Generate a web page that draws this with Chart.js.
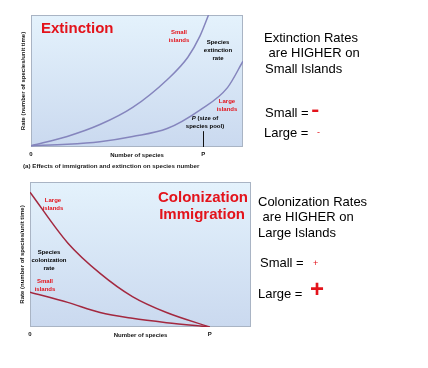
<!DOCTYPE html>
<html>
<head>
<meta charset="utf-8">
<script src="https://cdn.jsdelivr.net/npm/chart.js@4/dist/chart.umd.min.js"></script>
<style>
  body { margin: 0; background: #fff; font-family: "Liberation Sans", Arial, sans-serif; }
  #page { position: relative; width: 428px; height: 368px; overflow: hidden; }
  .box { position: absolute; }
  .t { position: absolute; white-space: nowrap; line-height: 1; }
  .red { color: #e3131b; }
  .lbl { font-size: 6px; font-weight: bold; text-align: center; line-height: 8px; }
  .side { font-size: 13px; color: #000; }
</style>
</head>
<body>
<div id="page">
  <div class="box" style="left:0;top:0;width:250px;height:175px"><canvas id="top"></canvas></div>
  <div class="box" style="left:0;top:178px;width:258px;height:170px"><canvas id="bottom"></canvas></div>

  <!-- labels inside the top chart -->
  <div class="t red" style="left:41px;top:20px;font-size:15px;font-weight:bold">Extinction</div>
  <div class="t lbl red" style="left:166px;top:28px;width:26px">Small<br>islands</div>
  <div class="t lbl" style="left:200px;top:38px;width:36px">Species<br>extinction<br>rate</div>
  <div class="t lbl red" style="left:214px;top:97px;width:26px">Large<br>islands</div>
  <div class="t lbl" style="left:180px;top:114px;width:50px"><i>P</i> (size of<br>species pool)</div>
  <div class="t" style="left:23px;top:163px;font-size:6.2px;font-weight:bold;color:#222">(a) Effects of immigration and extinction on species number</div>

  <!-- labels inside the bottom chart -->
  <div class="t red" style="left:158px;top:188px;font-size:15px;font-weight:bold;text-align:right;line-height:17px;width:87px">Colonization<br>Immigration</div>
  <div class="t lbl red" style="left:40px;top:196px;width:26px">Large<br>islands</div>
  <div class="t lbl" style="left:30px;top:248px;width:38px">Species<br>colonization<br>rate</div>
  <div class="t lbl red" style="left:32px;top:277px;width:26px">Small<br>islands</div>

  <!-- side notes -->
  <div class="t side red" style="left:264px;top:31px">Extinction Rates</div>
  <div class="t side" style="left:265px;top:46px">&nbsp;are HIGHER on</div>
  <div class="t side" style="left:265px;top:62px">Small Islands</div>
  <div class="t side" style="left:265px;top:106px">Small =</div>
  <div class="t red" style="left:312px;top:99px;font-size:20px;font-weight:bold;transform:scaleX(1.2)">-</div>
  <div class="t side" style="left:264px;top:126px">Large =</div>
  <div class="t red" style="left:317px;top:128px;font-size:9px">-</div>

  <div class="t side red" style="left:258px;top:195px">Colonization Rates</div>
  <div class="t side" style="left:259px;top:210px">&nbsp;are HIGHER on</div>
  <div class="t side" style="left:258px;top:226px">Large Islands</div>
  <div class="t side" style="left:260px;top:256px">Small =</div>
  <div class="t red" style="left:313px;top:259px;font-size:9px">+</div>
  <div class="t side" style="left:258px;top:287px">Large =</div>
  <div class="t red" style="left:310px;top:277px;font-size:24px;font-weight:bold">+</div>
</div>

<script>
// species number runs 0..P, P = 100; rate is relative (0..100)
const P = 100;

// extinction curves (top panel)
const extSmallX = [0, 21, 40, 59, 79, 91, 98, 103];
const extSmallY = [1, 8, 17, 30, 51, 68, 84, 100];
const extLargeX = [0, 21, 40, 59, 79, 98, 114, 123];
const extLargeY = [1, 2, 4, 8, 14, 28, 45, 65];

// colonization curves (bottom panel)
const colLargeX = [0, 21, 39, 57, 76, 100];
const colLargeY = [93, 58, 37, 21, 10, 0];
const colSmallX = [0, 21, 39, 57, 76, 100];
const colSmallY = [24, 17, 10, 6, 3, 0];

const xTicks = [0, P];
const xTickLabels = ['0', 'P'];

function pts(xs, ys) {
  return xs.map((x, i) => ({ x: x, y: ys[i] }));
}

// light blue gradient behind the plot area
const bgPlugin = {
  id: 'bg',
  beforeDraw(chart) {
    const a = chart.chartArea, ctx = chart.ctx;
    const g = ctx.createLinearGradient(0, a.top, 0, a.bottom);
    g.addColorStop(0, '#e4f2fc');
    g.addColorStop(1, '#cad9ef');
    ctx.save();
    ctx.fillStyle = g;
    ctx.fillRect(a.left, a.top, a.right - a.left, a.bottom - a.top);
    ctx.strokeStyle = '#a9b4c4';
    ctx.lineWidth = 1;
    ctx.strokeRect(a.left + 0.5, a.top + 0.5, a.right - a.left - 1, a.bottom - a.top - 1);
    ctx.restore();
  }
};

// short vertical mark at P in the top panel
const pMarkPlugin = {
  id: 'pmark',
  afterDatasetsDraw(chart) {
    const x = chart.scales.x.getPixelForValue(P);
    const y0 = chart.scales.y.getPixelForValue(0);
    const y1 = chart.scales.y.getPixelForValue(12);
    const ctx = chart.ctx;
    ctx.save();
    ctx.strokeStyle = '#111';
    ctx.lineWidth = 1;
    ctx.beginPath();
    ctx.moveTo(Math.round(x) + 0.5, y0);
    ctx.lineTo(Math.round(x) + 0.5, y1);
    ctx.stroke();
    ctx.restore();
  }
};

function makeOptions(xMax, yWidth, xHeight, pad) {
  return {
    responsive: true,
    maintainAspectRatio: false,
    animation: false,
    layout: { padding: pad },
    plugins: { legend: { display: false }, tooltip: { enabled: false } },
    elements: { point: { radius: 0 } },
    scales: {
      x: {
        type: 'linear', min: 0, max: xMax,
        grid: { display: false, drawTicks: false },
        border: { display: false },
        afterBuildTicks: s => { s.ticks = xTicks.map(v => ({ value: v })); },
        afterFit: s => { s.height = xHeight; },
        ticks: {
          padding: 4, color: '#111', font: { size: 6, weight: 'bold', family: 'Liberation Sans' },
          callback: (v) => xTickLabels[xTicks.indexOf(v)]
        },
        title: {
          display: true, text: 'Number of species', color: '#111',
          font: { size: 6, weight: 'bold', family: 'Liberation Sans' },
          padding: { top: -5, bottom: 0 }
        }
      },
      y: {
        min: 0, max: 100,
        grid: { display: false, drawTicks: false },
        border: { display: false },
        ticks: { display: false },
        afterFit: s => { s.width = yWidth; },
        title: {
          display: true, text: 'Rate (number of species/unit time)', color: '#111',
          font: { size: 6, weight: 'bold', family: 'Liberation Sans' },
          padding: 0
        }
      }
    }
  };
}

new Chart(document.getElementById('top'), {
  type: 'line',
  data: {
    datasets: [
      { label: 'Small islands', data: pts(extSmallX, extSmallY), borderColor: '#8585bd', borderWidth: 1.5, cubicInterpolationMode: 'monotone', fill: false },
      { label: 'Large islands', data: pts(extLargeX, extLargeY), borderColor: '#8585bd', borderWidth: 1.5, cubicInterpolationMode: 'monotone', fill: false }
    ]
  },
  options: makeOptions(123, 11, 12, { left: 20, right: 7, top: 15, bottom: 16 }),
  plugins: [bgPlugin, pMarkPlugin]
});

new Chart(document.getElementById('bottom'), {
  type: 'line',
  data: {
    datasets: [
      { label: 'Large islands', data: pts(colLargeX, colLargeY), borderColor: '#a3283f', borderWidth: 1.5, cubicInterpolationMode: 'monotone', fill: false },
      { label: 'Small islands', data: pts(colSmallX, colSmallY), borderColor: '#a3283f', borderWidth: 1.5, cubicInterpolationMode: 'monotone', fill: false }
    ]
  },
  options: makeOptions(123, 11, 12, { left: 19, right: 7, top: 4, bottom: 9 }),
  plugins: [bgPlugin]
});
</script>
</body>
</html>
